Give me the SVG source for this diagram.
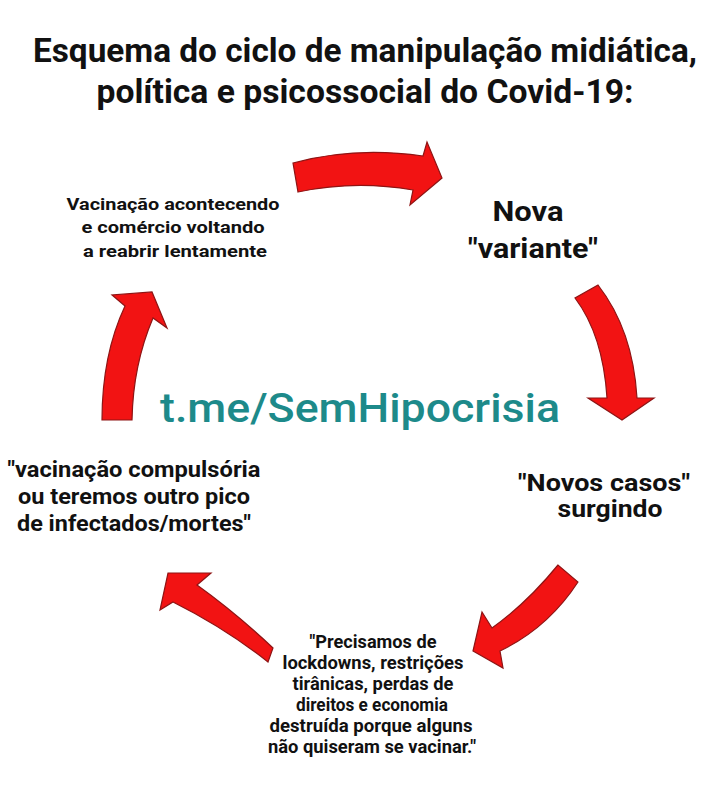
<svg xmlns="http://www.w3.org/2000/svg" width="720" height="810" viewBox="0 0 720 810">
<style>
.t{font-family:Roboto,"Liberation Sans",sans-serif;font-weight:bold;fill:#111;text-anchor:middle}
.arrow{fill:#f21313;stroke:#8e1414;stroke-width:1.2;stroke-linejoin:miter}
.link{font-family:Roboto,"Liberation Sans",sans-serif;font-weight:500;fill:#1d8a8a;text-anchor:middle}
</style>
<rect width="720" height="810" fill="#ffffff"/>
<g id="title">
<text class="t" x="365" y="62" font-size="34" textLength="664" lengthAdjust="spacingAndGlyphs">Esquema do ciclo de manipulação midiática,</text>
<text class="t" x="365" y="103" font-size="34" textLength="537" lengthAdjust="spacingAndGlyphs">política e psicossocial do Covid-19:</text>
</g>
<g id="node-vacinacao">
<text class="t" x="173" y="210" font-size="17" textLength="213" lengthAdjust="spacingAndGlyphs">Vacinação acontecendo</text>
<text class="t" x="173" y="233" font-size="17" textLength="183" lengthAdjust="spacingAndGlyphs">e comércio voltando</text>
<text class="t" x="175" y="257" font-size="17" textLength="184" lengthAdjust="spacingAndGlyphs">a reabrir lentamente</text>
</g>
<g id="node-variante">
<text class="t" x="528" y="221" font-size="27" textLength="71" lengthAdjust="spacingAndGlyphs">Nova</text>
<text class="t" x="533" y="258" font-size="27" textLength="130" lengthAdjust="spacingAndGlyphs">"variante"</text>
</g>
<g id="node-novos-casos">
<text class="t" x="604" y="491" font-size="23" textLength="172" lengthAdjust="spacingAndGlyphs">"Novos casos"</text>
<text class="t" x="610" y="517" font-size="23" textLength="105" lengthAdjust="spacingAndGlyphs">surgindo</text>
</g>
<g id="node-lockdowns">
<text class="t" x="373" y="648" font-size="17.5" textLength="127" lengthAdjust="spacingAndGlyphs">"Precisamos de</text>
<text class="t" x="373" y="669" font-size="17.5" textLength="181" lengthAdjust="spacingAndGlyphs">lockdowns, restrições</text>
<text class="t" x="373" y="690" font-size="17.5" textLength="161" lengthAdjust="spacingAndGlyphs">tirânicas, perdas de</text>
<text class="t" x="372" y="711" font-size="17.5" textLength="152" lengthAdjust="spacingAndGlyphs">direitos e economia</text>
<text class="t" x="371" y="732" font-size="17.5" textLength="203" lengthAdjust="spacingAndGlyphs">destruída porque alguns</text>
<text class="t" x="372" y="753" font-size="17.5" textLength="208" lengthAdjust="spacingAndGlyphs">não quiseram se vacinar."</text>
</g>
<g id="node-compulsoria">
<text class="t" x="134" y="477" font-size="22" textLength="253" lengthAdjust="spacingAndGlyphs">"vacinação compulsória</text>
<text class="t" x="134" y="504" font-size="22" textLength="232" lengthAdjust="spacingAndGlyphs">ou teremos outro pico</text>
<text class="t" x="134" y="531" font-size="22" textLength="234" lengthAdjust="spacingAndGlyphs">de infectados/mortes"</text>
</g>
<g id="watermark">
<text class="link" x="360" y="422" font-size="41" textLength="400" lengthAdjust="spacingAndGlyphs">t.me/SemHipocrisia</text>
</g>
<g id="connectors">
<path class="arrow" d="M293,163 Q355,146 423,156 L427,142 L442,178 L410,205 L413,190 Q355,180 298,192 Z"/>
<path class="arrow" d="M575,298 Q603,335 607,398 L588,398 L622,420 L654,398 L637,398 Q633,330 598,285 Z"/>
<path class="arrow" d="M558,565 Q527,603 492,628 L482,612 L473,651 L503,668 L500,651 Q548,628 578,582 Z"/>
<path class="arrow" d="M273,648 Q236,613 197,585 L211,573 L168,573 L160,610 L173,602 Q225,628 268,662 Z"/>
<path class="arrow" d="M102,420 Q102,355 125,306 L112,295 L152,292 L167,328 L153,318 Q133,365 132,420 Z"/>
</g>
</svg>
